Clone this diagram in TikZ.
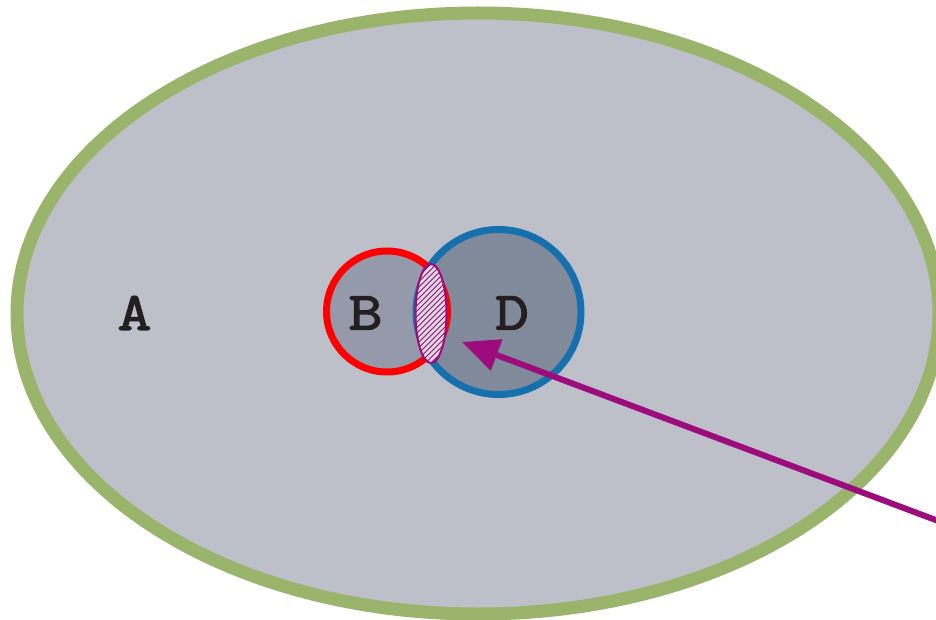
\documentclass[tikz,border=0pt]{standalone}
\usepackage{fontspec}
\newfontfamily\labelfont[FakeBold=2.5,FakeStretch=1.22]{Latin Modern Mono}
\usetikzlibrary{shapes.geometric,arrows.meta}
\definecolor{afill}{HTML}{BDC0C9}
\definecolor{agreen}{HTML}{9AB46C}
\definecolor{bfill}{HTML}{959AAB}
\definecolor{dfill}{HTML}{818A9B}
\definecolor{dblue}{HTML}{1570AD}
\definecolor{bred}{HTML}{FF0000}
\definecolor{lensfill}{HTML}{DADAE0}
\definecolor{purp}{HTML}{9C0C7C}
\definecolor{txt}{HTML}{231F20}
\tikzset{
  setlabel/.style={font=\labelfont\fontsize{54}{54}\selectfont, text=txt, inner sep=0pt, anchor=center},
  setA/.style={ellipse, draw=agreen, fill=afill, line width=13pt, minimum width=922pt, minimum height=601pt, inner sep=0pt},
  setB/.style={circle, draw=bred, line width=7pt, minimum size=121pt, inner sep=0pt},
  setD/.style={circle, draw=dblue, fill=dfill, line width=7pt, minimum size=165pt, inner sep=0pt},
  pointer/.style={draw=purp, line width=6pt, -{Triangle[length=37pt,width=32pt]}}
}
\begin{document}
\begin{tikzpicture}[x=1pt,y=-1pt]
\useasboundingbox (0,0) rectangle (936,620);
\clip (0,0) rectangle (936,620);
\fill[white] (0,0) rectangle (936,620);
% universe A
\node[setA] (A) at (478,313.5) {};
% set B (fill first)
\fill[bfill] (387,311.5) circle[radius=60.5];
% set D
\node[setD] (D) at (498.5,312) {};
% set B outline
\node[setB] (B) at (387,311.5) {};
% intersection lens
\begin{scope}
  \clip (431,313.5) ellipse[x radius=15.5, y radius=49.5];
  \fill[lensfill] (431,313.5) ellipse[x radius=15.5, y radius=49.5];
  \foreach \i in {-25,...,25} {
    \draw[purp, line width=1pt] ({431+5.5*\i-60},373.5) -- ({431+5.5*\i+60},253.5);
  }
\end{scope}
\node[ellipse, draw=purp, line width=2pt, minimum width=31pt, minimum height=99pt, inner sep=0pt] (lens) at (431,313.5) {};
% labels
\node[setlabel] (la) at (134.5,313) {A};
\node[setlabel] (lb) at (365.5,313) {B};
\node[setlabel] (ld) at (512,313) {D};
% arrow
\coordinate (tail) at (945,523.5);
\coordinate (tip) at (462,342);
\draw[pointer] (tail) -- (tip);
\end{tikzpicture}
\end{document}
